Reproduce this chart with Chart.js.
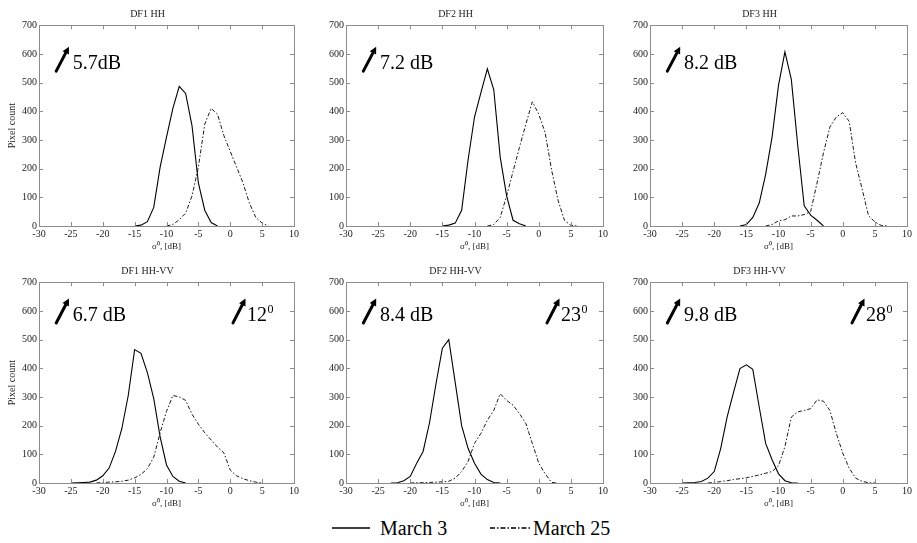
<!DOCTYPE html>
<html>
<head>
<meta charset="utf-8">
<script src="https://cdn.jsdelivr.net/npm/chart.js@4.4.1/dist/chart.umd.min.js"></script>
<style>
  html, body { margin: 0; padding: 0; background: #fff; }
  #wrap { position: relative; width: 917px; height: 543px; overflow: hidden; background: #fff; }
  canvas { position: absolute; }
  .leg { position: absolute; font-family: "Liberation Serif", "Times New Roman", serif; font-size: 20px; color: #000; line-height: 20px; white-space: nowrap; }
</style>
</head>
<body>
<div id="wrap">
  <canvas id="c0" width="301" height="255" style="left:0px;top:0px"></canvas>
  <canvas id="c1" width="303" height="255" style="left:307px;top:0px"></canvas>
  <canvas id="c2" width="303" height="255" style="left:611px;top:0px"></canvas>
  <canvas id="c3" width="301" height="255" style="left:0px;top:257px"></canvas>
  <canvas id="c4" width="303" height="255" style="left:307px;top:257px"></canvas>
  <canvas id="c5" width="303" height="255" style="left:611px;top:257px"></canvas>
  <svg style="position:absolute;left:330px;top:520px" width="45" height="16"><line x1="2" y1="8" x2="40" y2="8" stroke="#000" stroke-width="1.3"/></svg>
  <div class="leg" style="left:380px;top:518px">March 3</div>
  <svg style="position:absolute;left:488px;top:520px" width="45" height="16"><line x1="2" y1="8" x2="43" y2="8" stroke="#000" stroke-width="1.3" stroke-dasharray="5,2,1.5,2"/></svg>
  <div class="leg" style="left:533px;top:518px">March 25</div>
</div>
<script>
// ---------------- DATA ----------------
const dbBins = [-30,-29,-28,-27,-26,-25,-24,-23,-22,-21,-20,-19,-18,-17,-16,-15,-14,-13,-12,-11,-10,-9,-8,-7,-6,-5,-4,-3,-2,-1,0,1,2,3,4,5,6,7,8,9,10];
const N = null;

const panelTitles = ['DF1 HH', 'DF2 HH', 'DF3 HH', 'DF1 HH-VV', 'DF2 HH-VV', 'DF3 HH-VV'];
const seriesNames = ['March 3', 'March 25'];
const xTitle = 'σ⁰, [dB]';
const yTitle = 'Pixel count';
const dbLabels = ['5.7dB', '7.2 dB', '8.2 dB', '6.7 dB', '8.4 dB', '9.8 dB'];
const angleLabels = [null, null, null, '12', '23', '28'];
const xTicks = { min: -30, max: 10, step: 5 };
const yTicks = { min: 0, max: 700, step: 100 };

// DF1 HH
const df1HH_mar3  = [N,N,N,N,N,N,N,N,N,N,N,N,N,N,N, 0,3,15,65,205,310,410,487,462,350,150,55,12,0, N,N,N,N,N,N,N,N,N,N,N,N];
const df1HH_mar25 = [N,N,N,N,N,N,N,N,N,N,N,N,N,N,N,N,N,N,N,N, 0,5,22,45,105,205,355,410,390,315,260,205,150,80,30,10,0, N,N,N,N];
// DF2 HH
const df2HH_mar3  = [N,N,N,N,N,N,N,N,N,N,N,N,N,N,N, 0,3,10,55,230,380,465,548,475,240,105,20,8,0, N,N,N,N,N,N,N,N,N,N,N,N];
const df2HH_mar25 = [N,N,N,N,N,N,N,N,N,N,N,N,N,N,N,N,N,N,N,N,N,N, 0,5,30,105,190,275,355,433,390,325,195,90,20,2,0, N,N,N,N];
// DF3 HH
const df3HH_mar3  = [N,N,N,N,N,N,N,N,N,N,N,N,N,N, 0,5,30,80,180,310,490,607,510,280,70,38,20,0, N,N,N,N,N,N,N,N,N,N,N,N,N];
const df3HH_mar25 = [N,N,N,N,N,N,N,N,N,N,N,N,N,N,N,N,N,N, 0,5,18,22,35,35,40,50,150,255,345,380,395,365,220,130,37,14,2,0, N,N,N];
// DF1 HH-VV
const df1HHVV_mar3  = [N,N,N,N,N, 0,1,2,3,10,25,52,110,190,305,465,452,385,294,161,63,23,6,0, N,N,N,N,N,N,N,N,N,N,N,N,N,N,N,N,N];
const df1HHVV_mar25 = [N,N,N,N,N,N,N,N,N, 0,2,3,4,6,10,18,30,50,90,175,250,305,300,288,240,205,175,150,125,105,45,25,15,8,3,0, N,N,N,N,N];
// DF2 HH-VV
const df2HHVV_mar3  = [N,N,N,N,N,N,N, 0,1,8,23,69,110,210,345,470,500,350,200,121,69,31,12,2,0, N,N,N,N,N,N,N,N,N,N,N,N,N,N,N,N];
const df2HHVV_mar25 = [N,N,N,N,N,N,N,N,N,N, 0,1,1,2,3,4,6,17,40,75,138,173,219,253,311,288,271,242,207,138,69,32,2,0, N,N,N,N,N,N,N];
// DF3 HH-VV
const df3HHVV_mar3  = [N,N,N,N,N, 0,1,2,5,17,40,120,230,316,399,412,396,265,138,81,32,8,1,0, N,N,N,N,N,N,N,N,N,N,N,N,N,N,N,N,N];
const df3HHVV_mar25 = [N,N,N,N,N,N,N,N,N, 0,2,5,8,12,15,18,23,28,34,40,60,127,230,248,253,259,290,285,253,173,104,52,17,6,1,0, N,N,N,N,N];

const panelSeries = [
  [df1HH_mar3, df1HH_mar25],
  [df2HH_mar3, df2HH_mar25],
  [df3HH_mar3, df3HH_mar25],
  [df1HHVV_mar3, df1HHVV_mar25],
  [df2HHVV_mar3, df2HHVV_mar25],
  [df3HHVV_mar3, df3HHVV_mar25]
];

// ---------------- RENDERING ----------------
const SERIF = '"Liberation Serif", "Times New Roman", serif';

const boxPlugin = {
  id: 'boxTicks',
  afterDraw(chart) {
    const { ctx, chartArea: a, scales } = chart;
    ctx.save();
    ctx.strokeStyle = '#8c8c8c';
    ctx.lineWidth = 1;
    ctx.strokeRect(Math.round(a.left) + 0.5, Math.round(a.top) + 0.5, Math.round(a.right - a.left), Math.round(a.bottom - a.top));
    const L = 4;
    ctx.beginPath();
    scales.x.ticks.forEach(t => {
      const px = Math.round(scales.x.getPixelForValue(t.value)) + 0.5;
      if (Math.abs(px - a.left) < 2 || Math.abs(px - a.right) < 2) return;
      ctx.moveTo(px, a.bottom); ctx.lineTo(px, a.bottom - L);
      ctx.moveTo(px, a.top); ctx.lineTo(px, a.top + L);
    });
    scales.y.ticks.forEach(t => {
      const py = Math.round(scales.y.getPixelForValue(t.value)) + 0.5;
      if (Math.abs(py - a.top) < 2 || Math.abs(py - a.bottom) < 2) return;
      ctx.moveTo(a.left, py); ctx.lineTo(a.left + L, py);
      ctx.moveTo(a.right, py); ctx.lineTo(a.right - L, py);
    });
    ctx.stroke();
    ctx.restore();
  }
};

function drawArrow(ctx, x0, y0, x1, y1) {
  const ang = Math.atan2(y1 - y0, x1 - x0);
  const hl = 7, hw = 3.6;
  const bx = x1 - hl * Math.cos(ang), by = y1 - hl * Math.sin(ang);
  ctx.beginPath();
  ctx.lineWidth = 3;
  ctx.lineCap = 'round';
  ctx.moveTo(x0, y0); ctx.lineTo(bx, by);
  ctx.stroke();
  ctx.beginPath();
  ctx.moveTo(x1, y1);
  ctx.lineTo(bx + hw * Math.sin(ang), by - hw * Math.cos(ang));
  ctx.lineTo(bx - hw * Math.sin(ang), by + hw * Math.cos(ang));
  ctx.closePath();
  ctx.fill();
}

const annotPlugin = {
  id: 'annot',
  afterDatasetsDraw(chart, args, opts) {
    const { ctx, scales } = chart;
    const X = v => scales.x.getPixelForValue(v);
    const Y = v => scales.y.getPixelForValue(v);
    ctx.save();
    ctx.fillStyle = '#000';
    ctx.strokeStyle = '#000';
    const by = opts.baseY;
    drawArrow(ctx, X(-27.3), Y(by - 8), X(-25.3), Y(by + 77));
    ctx.font = '20px ' + SERIF;
    ctx.textBaseline = 'alphabetic';
    ctx.textAlign = 'left';
    ctx.fillText(opts.dbText, X(-24.7), Y(by));
    if (opts.angleText) {
      const ax = opts.angleX;
      drawArrow(ctx, ax - 14, Y(by - 8), ax - 1.5, Y(by + 77));
      ctx.font = '20px ' + SERIF;
      ctx.fillText(opts.angleText, ax, Y(by));
      const w = ctx.measureText(opts.angleText).width;
      ctx.font = '12px ' + SERIF;
      ctx.fillText('0', ax + w + 0.5, Y(by) - 8);
    }
    ctx.restore();
  }
};

const angleXpx = [null, null, null, 247, 254, 255];

panelTitles.forEach((title, i) => {
  const col = i % 3;
  const row = Math.floor(i / 3);
  const [s3, s25] = panelSeries[i];
  const toPts = arr => dbBins.map((x, k) => ({ x: x, y: arr[k] }));
  const tickFont = { family: SERIF, size: 10 };
  new Chart(document.getElementById('c' + i), {
    type: 'line',
    data: {
      datasets: [
        { label: seriesNames[0], data: toPts(s3), borderColor: '#000', borderWidth: 1.1, pointRadius: 0, tension: 0, spanGaps: false, fill: false },
        { label: seriesNames[1], data: toPts(s25), borderColor: '#1a1a1a', borderWidth: 1, borderDash: [4, 2, 1.5, 2], pointRadius: 0, tension: 0, spanGaps: false, fill: false }
      ]
    },
    options: {
      responsive: false,
      animation: false,
      devicePixelRatio: 1,
      layout: { padding: { left: 0, right: 6, top: 0, bottom: 0 } },
      plugins: {
        legend: { display: false },
        tooltip: { enabled: false },
        title: { display: true, text: title, color: '#222', font: { family: SERIF, size: 10, weight: 'normal' }, padding: { top: 8, bottom: 5.2 } },
        annot: { dbText: dbLabels[i], angleText: angleLabels[i], angleX: angleXpx[i], baseY: row === 0 ? 548 : 566 }
      },
      scales: {
        x: {
          type: 'linear', min: xTicks.min, max: xTicks.max,
          ticks: { stepSize: xTicks.step, font: tickFont, color: '#222', padding: 2, maxRotation: 0, autoSkip: false },
          grid: { display: false, drawTicks: false, tickLength: 0 }, border: { display: false },
          title: { display: true, text: xTitle, color: '#222', font: { family: SERIF, size: 9 }, padding: { top: 0, bottom: 3 } },
          afterFit: s => { s.height = 29; }
        },
        y: {
          type: 'linear', min: yTicks.min, max: yTicks.max,
          ticks: { stepSize: yTicks.step, font: tickFont, color: '#222', padding: 2, autoSkip: false },
          grid: { display: false, drawTicks: false, tickLength: 0 }, border: { display: false },
          title: { display: col === 0, text: yTitle, color: '#222', font: { family: SERIF, size: 10 }, padding: { top: 6, bottom: 0 } },
          afterFit: s => { s.width = 39; }
        }
      }
    },
    plugins: [boxPlugin, annotPlugin]
  });
});
</script>
</body>
</html>
